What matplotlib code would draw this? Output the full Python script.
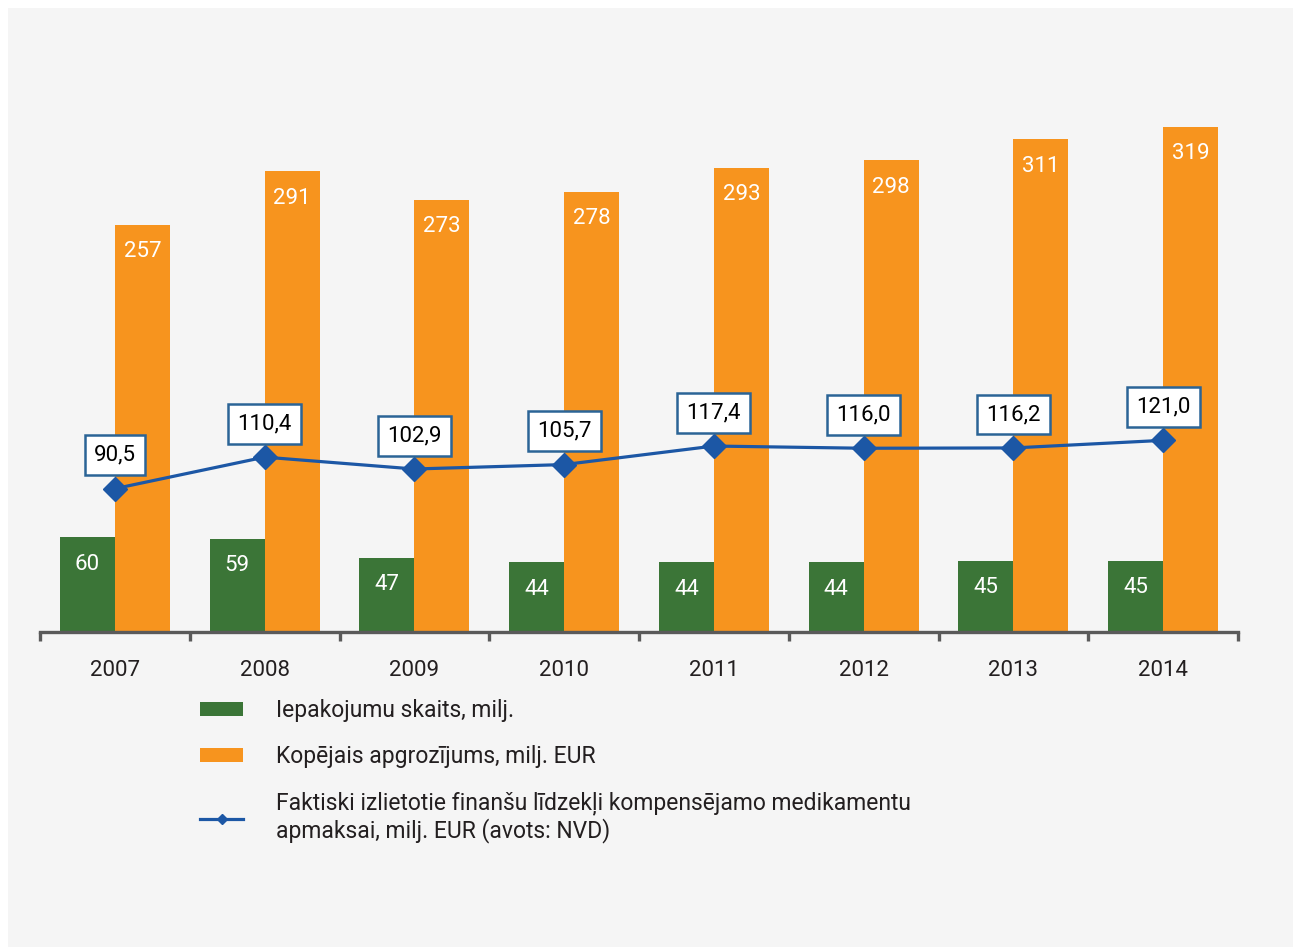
import matplotlib
matplotlib.use("Agg")
import matplotlib.pyplot as plt
from matplotlib.patches import Rectangle, Patch
from matplotlib.lines import Line2D
import numpy as np

plt.rcParams['font.family'] = ['Roboto', 'DejaVu Sans']

years = ["2007", "2008", "2009", "2010", "2011", "2012", "2013", "2014"]
packages = [60, 59, 47, 44, 44, 44, 45, 45]
turnover = [257, 291, 273, 278, 293, 298, 311, 319]
funds = [90.5, 110.4, 102.9, 105.7, 117.4, 116.0, 116.2, 121.0]

legend_labels = [
    "Iepakojumu skaits, milj.",
    "Kopējais apgrozījums, milj. EUR",
    "Faktiski izlietotie finanšu līdzekļi kompensējamo medikamentu\napmaksai, milj. EUR (avots: NVD)",
]

GREEN = "#3b7537"
ORANGE = "#f7941e"
BLUE = "#1c57a5"
BOX_EDGE = "#2b6496"
TEXT = "#231f20"
AXIS = "#5a5a5a"
PANEL = "#f5f5f5"

W, H = 1293, 947
fig = plt.figure(figsize=(W / 100, H / 100), dpi=100, facecolor="white")
fig.patches.append(Rectangle((8 / W, 0), 1, 1 - 8 / H, transform=fig.transFigure,
                             facecolor=PANEL, edgecolor="none", zorder=-10))

# axes placed in pixel terms: x from 40 to 1238, baseline at y=632, top at y=100
left, right, base, top = 40, 1238, 632, 100
ax = fig.add_axes([left / W, 1 - base / H, (right - left) / W, (base - top) / H])
ax.set_facecolor("none")

x = np.arange(len(years))
bw = 0.367
ax.bar(x - bw / 2, packages, width=bw, color=GREEN, zorder=2)
ax.bar(x + bw / 2, turnover, width=bw, color=ORANGE, zorder=2)
ax.plot(x, funds, color=BLUE, lw=2.3, marker="D", markersize=12, zorder=4)

FS = 16
for xi, v in zip(x, packages):
    ax.annotate(f"{v}", (xi - bw / 2, v), xytext=(0, -19.5), textcoords="offset points",
                ha="center", va="center", color="white", fontsize=FS, zorder=5)
for xi, v in zip(x, turnover):
    ax.annotate(f"{v}", (xi + bw / 2, v), xytext=(0, -19.5), textcoords="offset points",
                ha="center", va="center", color="white", fontsize=FS, zorder=5)
for xi, v in zip(x, funds):
    ax.annotate(f"{v:.1f}".replace(".", ","), (xi, v), xytext=(0, 24), textcoords="offset points",
                ha="center", va="center", color="black", fontsize=FS, zorder=6,
                bbox=dict(boxstyle="square,pad=0.42", facecolor="white",
                          edgecolor=BOX_EDGE, linewidth=1.8))

ax.set_xlim(-0.5, len(years) - 0.5)
ax.set_ylim(0, (base - top) / 1.584)

for s in ["top", "right", "left"]:
    ax.spines[s].set_visible(False)
ax.spines["bottom"].set_color(AXIS)
ax.spines["bottom"].set_linewidth(2.4)
ax.spines["bottom"].set_zorder(3)

ax.set_yticks([])
ax.set_xticks(x)
ax.set_xticklabels(years, fontsize=FS, color=TEXT)
ax.tick_params(axis="x", which="major", length=0, pad=20.5)
ax.set_xticks(np.arange(-0.5, len(years)), minor=True)
ax.tick_params(axis="x", which="minor", length=6.5, width=2.4, color=AXIS, direction="out")

handles = [
    Patch(facecolor=GREEN, edgecolor="none"),
    Patch(facecolor=ORANGE, edgecolor="none"),
    Line2D([], [], color=BLUE, lw=2.3, marker="D", markersize=5),
]
LFS = 16.5
fig.legend(handles, legend_labels, loc="upper left",
           bbox_to_anchor=(200 / W, 1 - 699 / H), bbox_transform=fig.transFigure,
           frameon=False, fontsize=LFS, labelcolor=TEXT, borderpad=0, borderaxespad=0,
           handlelength=43 / (LFS * 100 / 72), handleheight=12 / (LFS * 100 / 72),
           handletextpad=33 / (LFS * 100 / 72), labelspacing=1.0)

fig.savefig("out.png", dpi=100, facecolor="white")
